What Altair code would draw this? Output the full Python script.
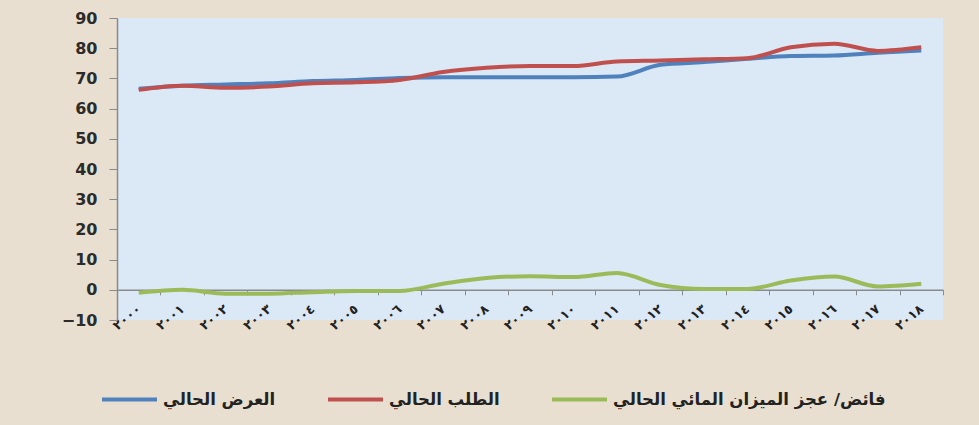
import altair as alt
import pandas as pd

years = ["٢٠٠٠", "٢٠٠١", "٢٠٠٢", "٢٠٠٣", "٢٠٠٤", "٢٠٠٥", "٢٠٠٦", "٢٠٠٧", "٢٠٠٨", "٢٠٠٩",
         "٢٠١٠", "٢٠١١", "٢٠١٢", "٢٠١٣", "٢٠١٤", "٢٠١٥", "٢٠١٦", "٢٠١٧", "٢٠١٨"]
supply = [66.6, 67.6, 68.0, 68.4, 69.1, 69.5, 70.1, 70.4, 70.4, 70.4,
          70.4, 70.6, 74.5, 75.4, 76.5, 77.4, 77.6, 78.5, 79.2]
demand = [66.2, 67.6, 66.9, 67.3, 68.4, 68.7, 69.5, 72.1, 73.5, 74.1,
          74.1, 75.6, 75.9, 76.3, 76.7, 80.3, 81.5, 79.1, 80.3]
balance = [-1.0, 0.0, -1.3, -1.3, -0.8, -0.4, -0.4, 2.0, 3.9, 4.5,
           4.2, 5.6, 1.6, 0.3, 0.3, 3.1, 4.4, 1.1, 2.0]

series_names = ["العرض الحالي", "الطلب الحالي", "فائض/ عجز الميزان المائي الحالي"]
series_colors = ["#4f81bd", "#c0504d", "#9bbb59"]
y_ticks = [-10, 0, 10, 20, 30, 40, 50, 60, 70, 80, 90]

rows = []
for name, vals in zip(series_names, [supply, demand, balance]):
    for i, (yr, v) in enumerate(zip(years, vals)):
        rows.append({"year": yr, "value": v, "series": name, "order": i})
df = pd.DataFrame(rows)

FONT = "DejaVu Sans"

chart = alt.Chart(df).mark_line(strokeWidth=4, interpolate="monotone").encode(
    x=alt.X("year:N", sort=years, title=None,
            scale=alt.Scale(paddingInner=0, paddingOuter=0),
            axis=alt.Axis(labelAngle=-40, labelAlign="right", labelBaseline="middle",
                          labelFont=FONT, labelFontWeight="bold", labelFontSize=13,
                          labelColor="#222222", labelPadding=12,
                          tickBand="extent", tickSize=5, tickColor="#8a8a8a",
                          domainColor="#8a8a8a", domainWidth=1.5, offset=-30.2,
                          grid=False)),
    y=alt.Y("value:Q", title=None,
            scale=alt.Scale(domain=[-10, 90], nice=False, zero=False),
            axis=alt.Axis(values=y_ticks, labelFont=FONT, labelFontWeight="bold",
                          labelFontSize=16, labelColor="#2b2b2b", labelPadding=12,
                          tickSize=8, tickColor="#8a8a8a", domainColor="#8a8a8a",
                          domainWidth=1.5, grid=False)),
    color=alt.Color("series:N", sort=series_names,
                    scale=alt.Scale(domain=series_names, range=series_colors),
                    legend=alt.Legend(title=None, orient="none", direction="horizontal",
                                      legendX=-17, legendY=352,
                                      symbolType="stroke", symbolSize=3025,
                                      symbolStrokeWidth=4, labelFont=FONT,
                                      labelFontWeight="bold", labelFontSize=16.5,
                                      labelColor="#222222", labelLimit=500,
                                      labelOffset=4, columnPadding=44)),
    order="order:Q",
).properties(
    width=826, height=302,
    autosize=alt.AutoSizeParams(type="none"),
    padding={"left": 117, "top": 18, "right": 36, "bottom": 105},
    background="#e8dfd0",
).configure_view(fill="#dbe8f6", stroke=None)

chart.save("out.html", embed_options={"renderer": "svg", "actions": False})
